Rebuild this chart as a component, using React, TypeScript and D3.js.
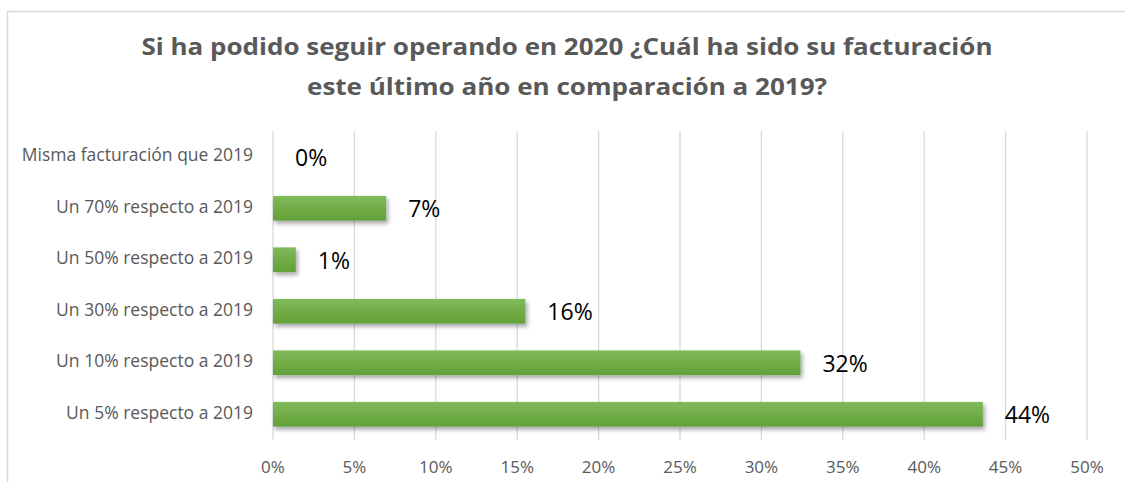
import React from 'react';
import * as d3 from 'd3';

const titleLines = [
  'Si ha podido seguir operando en 2020 ¿Cuál ha sido su facturación',
  'este último año en comparación a 2019?',
];
const titleWidths = [851, 520];

const categories = [
  'Misma facturación que 2019',
  'Un 70% respecto a 2019',
  'Un 50% respecto a 2019',
  'Un 30% respecto a 2019',
  'Un 10% respecto a 2019',
  'Un 5% respecto a 2019',
];

// bar lengths (percent)
const values = [0, 6.95, 1.4, 15.5, 32.4, 43.6];
const valueLabels = ['0%', '7%', '1%', '16%', '32%', '44%'];

const xTicks = [0, 5, 10, 15, 20, 25, 30, 35, 40, 45, 50];

const W = 1125;
const H = 482;

const margin = { top: 131, right: 38, bottom: 42, left: 273 };

function App() {
  const xScale = d3.scaleLinear()
    .domain([0, 50])
    .range([margin.left, W - margin.right]);

  const yScale = d3.scaleBand()
    .domain(categories)
    .range([margin.top, H - margin.bottom])
    .paddingInner(0.52)
    .paddingOuter(0.26);

  const font = "'Open Sans', sans-serif";

  return (
    <svg width={W} height={H} style={{ position: 'absolute', left: 0, top: 0, background: '#fff' }}>
      <defs>
        <linearGradient id="barFill" x1="0" y1="0" x2="0" y2="1">
          <stop offset="0%" stopColor="#80bb5c" />
          <stop offset="50%" stopColor="#70ad47" />
          <stop offset="100%" stopColor="#62a03a" />
        </linearGradient>
        <filter id="shadow" x="-10%" y="-30%" width="130%" height="180%">
          <feDropShadow dx="2" dy="3" stdDeviation="2" floodColor="#000" floodOpacity="0.35" />
        </filter>
      </defs>

      <rect x={7.5} y={11.5} width={1300} height={700} fill="none" stroke="#d9d9d9" strokeWidth={1.5} />

      {titleLines.map((t, i) => (
        <text key={i} x={567} y={55 + i * 40} textAnchor="middle"
          textLength={titleWidths[i]} lengthAdjust="spacingAndGlyphs"
          fontFamily={font} fontWeight={700} fontSize={24} fill="#595959">{t}</text>
      ))}

      {/* vertical grid */}
      {xTicks.map((t) => (
        <line key={t} x1={xScale(t)} x2={xScale(t)} y1={margin.top} y2={H - margin.bottom}
          stroke="#d9d9d9" strokeWidth={1.3} />
      ))}

      {/* bars */}
      {categories.map((c, i) => (
        values[i] > 0 ? (
          <rect key={c} x={xScale(0)} y={yScale(c)} width={xScale(values[i]) - xScale(0)}
            height={yScale.bandwidth()} fill="url(#barFill)" filter="url(#shadow)" />
        ) : null
      ))}

      {/* data labels */}
      {categories.map((c, i) => (
        <text key={c} x={xScale(values[i]) + 22} y={(yScale(c) ?? 0) + yScale.bandwidth() / 2 + 3}
          dominantBaseline="middle" fontFamily={font} fontSize={23} fill="#000">{valueLabels[i]}</text>
      ))}

      {/* category labels */}
      {categories.map((c) => (
        <text key={c} x={253} y={(yScale(c) ?? 0) + yScale.bandwidth() / 2}
          dominantBaseline="middle" textAnchor="end" fontFamily={font} fontSize={17.5} fill="#595959">{c}</text>
      ))}

      {/* x ticks */}
      {xTicks.map((t) => (
        <text key={t} x={xScale(t)} y={473} textAnchor="middle"
          fontFamily={font} fontSize={17} fill="#595959">{t}%</text>
      ))}
    </svg>
  );
}

export default App;
